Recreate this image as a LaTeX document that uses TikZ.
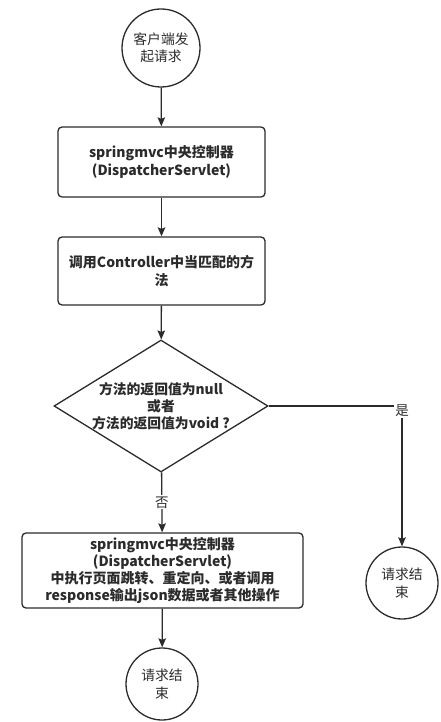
\documentclass[tikz,border=0pt]{standalone}
\usepackage{fontspec}
\setmainfont{Noto Sans CJK SC}
\usetikzlibrary{shapes.geometric,arrows.meta}
\definecolor{ink}{HTML}{2B2B2B}
\tikzset{
  terminal/.style={circle,draw=ink,line width=1.3pt,minimum size=74pt,inner sep=0pt,
    align=center,text=ink,font=\fontsize{13.8}{17.5}\selectfont},
  stepbox/.style={rectangle,rounded corners=4pt,draw=ink,line width=1.3pt,
    minimum width=207pt,minimum height=70pt,inner sep=0pt,align=center,text=ink,
    font=\bfseries\fontsize{14}{18}\selectfont},
  decision/.style={diamond,draw=ink,line width=1.3pt,minimum width=214pt,
    minimum height=132pt,inner sep=0pt},
  flow/.style={draw=ink,line width=1.3pt,-{Stealth[length=9pt,width=7.5pt,inset=1.5pt]}},
  edgelabel/.style={fill=white,inner sep=1pt,text=ink,font=\fontsize{13.5}{15}\selectfont}
}
\begin{document}
\begin{tikzpicture}[x=1pt,y=-1pt]
\useasboundingbox (0,0) rectangle (440,722);

% Start of the request
\node[terminal,minimum size=78pt] (start) at (161,48) {客户端发\\起请求};

% Front controller and handler
\node[stepbox] (dispatch) at (161.5,162) {springmvc中央控制器\\(DispatcherServlet)};
\node[stepbox,minimum height=68pt] (handler) at (161.5,271) {调用Controller中当匹配的方\\法};

% Return value check
\node[decision,label={[align=center,text=ink,font=\bfseries\fontsize{13.8}{17}\selectfont]center:方法的返回值为null\\或者\\方法的返回值为void ?}] (check) at (161,406) {};

% Result handling
\node[stepbox,minimum width=281pt,minimum height=75pt,font=\bfseries\fontsize{14}{17}\selectfont] (result) at (162.5,570.5)
  {springmvc中央控制器\\(DispatcherServlet)\\中执行页面跳转、重定向、或者调用\\response输出json数据或者其他操作};

% End points
\node[terminal,minimum size=72pt] (endleft) at (162,684) {请求结\\束};
\node[terminal,minimum size=72pt] (endright) at (402,583) {请求结\\束};

% Connectors
\draw[flow] (start) -- (dispatch);
\draw[flow] (dispatch) -- (handler);
\draw[flow] (handler) -- (check);
\draw[flow] (check) -- node[edgelabel] {否} (result);
\draw[flow] (check.east) -| node[edgelabel,pos=0.5,yshift=-5pt] {是} (endright);
\draw[flow] (result) -- (endleft);
\end{tikzpicture}
\end{document}
